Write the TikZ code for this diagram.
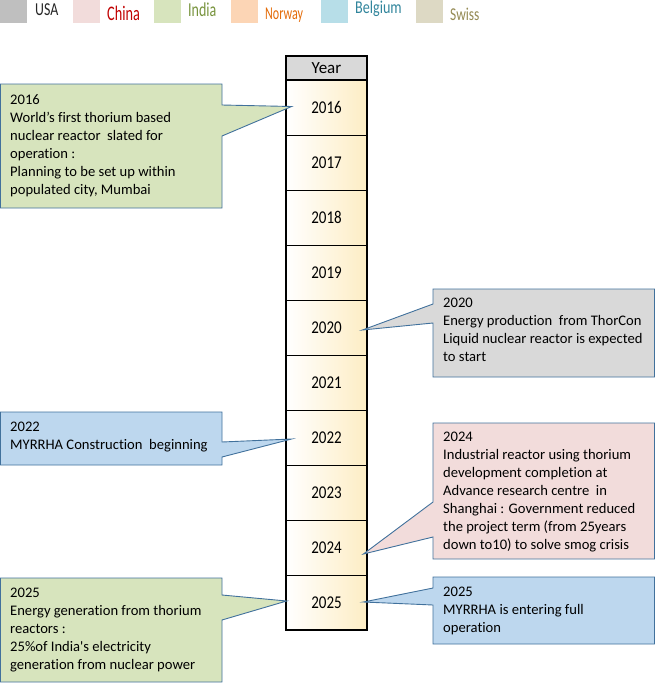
\documentclass[tikz,border=0pt]{standalone}
\usepackage{fontspec}
\setmainfont{Carlito}[Ligatures={NoCommon,TeXOff}]
\usepackage{tikz}
\usetikzlibrary{calc,positioning}
\definecolor{usagray}{HTML}{BFBFBF}
\definecolor{chinapink}{HTML}{F2DCDB}
\definecolor{indiagreen}{HTML}{D7E4BD}
\definecolor{norwayorange}{HTML}{FCD5B5}
\definecolor{belgiumblue}{HTML}{B7DEE8}
\definecolor{swisstan}{HTML}{DDD9C4}
\definecolor{usatext}{HTML}{262626}
\definecolor{chinared}{HTML}{C00000}
\definecolor{indiatext}{HTML}{77933C}
\definecolor{norwaytext}{HTML}{E46C0A}
\definecolor{belgiumtext}{HTML}{31859C}
\definecolor{swisstext}{HTML}{948A54}
\definecolor{headgray}{HTML}{D9D9D9}
\definecolor{rowyellow}{HTML}{FDEDC4}
\definecolor{callblue}{HTML}{BDD7EE}
\definecolor{callborder}{HTML}{41719C}
\tikzset{
    legbox/.style={minimum width=27pt, minimum height=22.5pt, inner sep=0pt, anchor=north west},
    legtext/.style={inner sep=0pt, anchor=base west, font=\fontsize{14}{17}\selectfont},
    yearrow/.style={draw=black, line width=0.8pt, minimum width=81pt, minimum height=55pt, inner sep=0pt,
        left color=white, right color=rowyellow, font=\fontsize{15}{18}\selectfont},
    yearhead/.style={draw=black, line width=0.8pt, fill=headgray, minimum width=81pt, minimum height=24pt,
        inner sep=0pt, font=\fontsize{17}{20}\selectfont},
    callline/.style={draw=callborder, line width=0.9pt, line join=miter},
    calltext/.style={inner sep=0pt, anchor=north west, align=left, font=\fontsize{14.6}{18}\selectfont}}

\begin{document}
\begin{tikzpicture}[x=1pt,y=-1pt]
\useasboundingbox (0,0) rectangle (655,683);

%legend
\foreach \nm/\col/\tcol/\bx/\tx/\ty/\sx/\sy in {USA/usagray/usatext/0/35/15/0.99/1.3,
    China/chinapink/chinared/73/107/20/1.02/1.48, India/indiagreen/indiatext/154/188/16/1.0/1.41,
    Norway/norwayorange/norwaytext/231/265/19/0.86/1.29, Belgium/belgiumblue/belgiumtext/321/355/13.3/1.01/1.29,
    Swiss/swisstan/swisstext/416/450/20/0.96/1.29}{
  \node[legbox, fill=\col] (sq\nm) at (\bx,0) {};
  \node[legtext, text=\tcol] (lg\nm) at (\tx,\ty) {\scalebox{\sx}[\sy]{\nm}};
}

%year column
\node[yearhead] (year) at (326.5,68) {Year};
\foreach \yr [count=\i from 0] in {2016,...,2025}
  \node[yearrow] (y\yr) at (326.5,{107.5+55*\i}) {\scalebox{1}[1.2]{\yr}};
\draw[line width=2pt] (year.north west) rectangle (y2025.south east);
\draw[line width=2pt] (year.south west) -- (year.south east);

%pointer tips
\coordinate (t2016) at ($(y2016.west)+(6,-1)$);
\coordinate (t2020) at ($(y2020.east)+(-5,2.5)$);
\coordinate (t2022) at ($(y2022.west)+(6,1.5)$);
\coordinate (t2024) at ($(y2024.east)+(-4,6.5)$);
\coordinate (t2025a) at ($(y2025.west)+(1,-1.5)$);
\coordinate (t2025b) at ($(y2025.east)+(-4,-0.5)$);

%callouts
\draw[callline, fill=indiagreen] (0.5,84) -- (222,84) -- (222,105) -- (t2016) -- (222,136) -- (222,208) -- (0.5,208) -- cycle;
\node[calltext] (c2016) at (10,94) {2016\\World’s first thorium based\\nuclear reactor\ \ slated for\\operation :\\Planning to be set up within\\populated city, Mumbai};

\draw[callline, fill=headgray] (433,289) -- (654.5,289) -- (654.5,377) -- (433,377) -- (433,323) -- (t2020) -- (433,304) -- cycle;
\node[calltext] (c2020) at (443,298) {2020\\Energy production\ \ from ThorCon\\Liquid nuclear reactor is expected\\to start};

\draw[callline, fill=callblue] (0.5,412) -- (222,412) -- (222,442) -- (t2022) -- (222,457) -- (222,465) -- (0.5,465) -- cycle;
\node[calltext] (c2022) at (10,422) {2022\\MYRRHA Construction\ \ beginning};

\draw[callline, fill=chinapink] (433,423) -- (654.5,423) -- (654.5,559) -- (433,559) -- (433,537) -- (t2024) -- (433,502) -- cycle;
\node[calltext] (c2024) at (443,432) {2024\\Industrial reactor using thorium\\development completion at\\Advance research centre\ \ in\\Shanghai : Government reduced\\the project term (from 25years\\down to10) to solve smog crisis};

\draw[callline, fill=indiagreen] (0.5,578) -- (222,578) -- (222,595) -- (t2025a) -- (222,620) -- (222,682) -- (0.5,682) -- cycle;
\node[calltext] (c2025a) at (10,588) {2025\\Energy generation from thorium\\reactors :\\25\%of India's electricity\\generation from nuclear power};

\draw[callline, fill=callblue] (433,577) -- (654.5,577) -- (654.5,644) -- (433,644) -- (433,605) -- (t2025b) -- (433,588) -- cycle;
\node[calltext] (c2025b) at (443,587) {2025\\MYRRHA is entering full\\operation};

\end{tikzpicture}
\end{document}
